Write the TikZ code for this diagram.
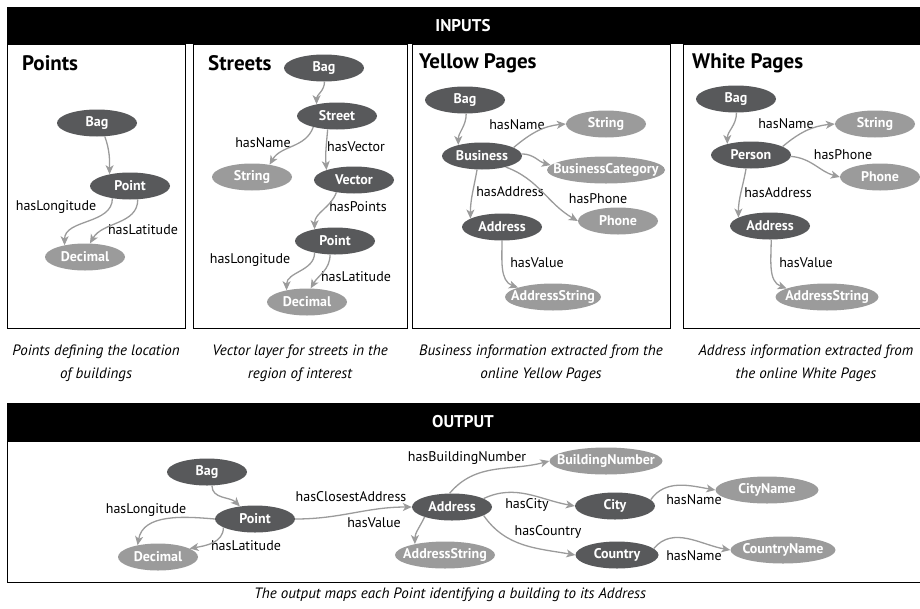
\documentclass[tikz,border=0pt]{standalone}
\usepackage{fontspec}
\setmainfont{PT Sans}
\usetikzlibrary{shapes.geometric,arrows.meta}

\definecolor{nodedark}{HTML}{58595B}
\definecolor{nodelight}{HTML}{9B9B9B}
\definecolor{linkgray}{HTML}{9B9B9B}

\tikzset{
  cls/.style={ellipse, fill=nodedark, text=white, inner sep=0pt,
    font=\fontsize{14}{15}\selectfont\bfseries,
    minimum height=27pt, minimum width=#1,
    execute at begin node=\hbox to 0pt\bgroup\hss,
    execute at end node=\hss\egroup},
  cls/.default=80pt,
  lit/.style={cls=#1, fill=nodelight},
  lit/.default=80pt,
  rel/.style={font=\fontsize{14}{16}\selectfont, inner sep=0pt},
  link/.style={draw=linkgray, line width=1.3pt, -{Stealth[length=9pt,width=8pt,inset=2.5pt]}},
  paneltitle/.style={font=\fontsize{21}{24}\selectfont\bfseries, inner sep=0pt, anchor=west},
  bartext/.style={font=\fontsize{17}{20}\selectfont\bfseries, text=white, inner sep=0pt},
  caption/.style={font=\fontsize{15}{23}\selectfont\itshape, align=center, inner sep=0pt},
  frame/.style={draw=black, line width=0.9pt},
}

\begin{document}
\begin{tikzpicture}[x=1pt,y=1pt]
\useasboundingbox (0,0) rectangle (920,-608);

% ---------- INPUTS ----------
\fill[black] (7,-7) rectangle (920,-44);
\node[bartext] (inputs) at (463,-25.5) {INPUTS};

\draw[frame] (7,-44) rectangle (185,-328);
\draw[frame] (193,-44) rectangle (407,-328);
\draw[frame] (412,-44) rectangle (670,-328);
\draw[frame] (920,-44) -- (683,-44) -- (683,-328) -- (920,-328);

\node[paneltitle] (t1) at (22,-63) {Points};
\node[paneltitle] (t2) at (208,-63) {Streets};
\node[paneltitle] (t3) at (419,-63) {Yellow Pages};
\node[paneltitle] (t4) at (692,-63) {White Pages};

% Points
\node[cls] (p1bag) at (97,-123) {Bag};
\node[cls] (p1point) at (130,-186) {Point};
\node[lit] (p1dec) at (85,-257) {Decimal};
\node[rel] (p1lon) at (56,-207) {hasLongitude};
\node[rel] (p1lat) at (143,-230) {hasLatitude};
\draw[link] (p1bag.-60) to[out=-70,in=90] (p1point.150);
\draw[link] (p1point.215) to[out=-90,in=90] (p1dec.150);
\draw[link] (p1point.-60) to[out=-90,in=60] (p1dec.70);

% Streets
\node[cls] (s2bag) at (324,-68) {Bag};
\node[cls] (s2street) at (337,-116) {Street};
\node[lit] (s2string) at (252,-177) {String};
\node[cls] (s2vector) at (354,-180) {Vector};
\node[cls] (s2point) at (335,-241) {Point};
\node[lit] (s2dec) at (307,-302) {Decimal};
\node[rel] (s2name) at (263,-143) {hasName};
\node[rel] (s2vec) at (356,-147) {hasVector};
\node[rel] (s2pts) at (358,-207) {hasPoints};
\node[rel] (s2lon) at (250,-260) {hasLongitude};
\node[rel] (s2lat) at (356,-277) {hasLatitude};
\draw[link] (s2bag.-88) to[out=-90,in=90] (s2street.150);
\draw[link] (s2street.205) to[out=-110,in=60] (s2string.35);
\draw[link] (s2street.235) to[out=-95,in=95] (s2vector.160);
\draw[link] (s2vector.215) to[out=-110,in=90] (s2point.150);
\draw[link] (s2point.210) to[out=-90,in=90] (s2dec.150);
\draw[link] (s2point.-110) to[out=-90,in=60] (s2dec.75);

% Yellow Pages
\node[cls] (y3bag) at (465,-100) {Bag};
\node[cls] (y3bus) at (482,-156) {Business};
\node[lit] (y3str) at (606,-124) {String};
\node[lit=118pt] (y3cat) at (606,-170) {BusinessCategory};
\node[lit] (y3phone) at (618,-221) {Phone};
\node[cls] (y3addr) at (502,-227) {Address};
\node[lit=96pt] (y3astr) at (553,-297) {AddressString};
\node[rel] (y3name) at (517,-125) {hasName};
\node[rel] (y3addrl) at (510,-192) {hasAddress};
\node[rel] (y3phl) at (598,-199) {hasPhone};
\node[rel] (y3val) at (537,-263) {hasValue};
\draw[link] (y3bag.-85) to[out=-90,in=90] (y3bus.155);
\draw[link] (y3bus.15) to[out=40,in=185] (y3str.west);
\draw[link] (y3bus.3) to[out=0,in=165] (y3cat.175);
\draw[link] (y3bus.-25) to[out=-20,in=150] (y3phone.west);
\draw[link] (y3bus.-110) to[out=-100,in=90] (y3addr.165);
\draw[link] (y3addr.-90) to[out=-90,in=160] (y3astr.165);

% White Pages
\node[cls] (w4bag) at (736,-99) {Bag};
\node[cls] (w4person) at (751,-155) {Person};
\node[lit] (w4str) at (875,-124) {String};
\node[lit] (w4phone) at (880,-177) {Phone};
\node[cls] (w4addr) at (770,-226) {Address};
\node[lit=103pt] (w4astr) at (827,-297) {AddressString};
\node[rel] (w4name) at (786,-124) {hasName};
\node[rel] (w4ph) at (843,-155) {hasPhone};
\node[rel] (w4addrl) at (778,-193) {hasAddress};
\node[rel] (w4val) at (806,-263) {hasValue};
\draw[link] (w4bag.-88) to[out=-90,in=90] (w4person.155);
\draw[link] (w4person.15) to[out=40,in=185] (w4str.west);
\draw[link] (w4person.-2) to[out=-5,in=165] (w4phone.west);
\draw[link] (w4person.-110) to[out=-100,in=90] (w4addr.165);
\draw[link] (w4addr.-85) to[out=-90,in=160] (w4astr.168);

% Captions
\node[caption] (cap1) at (96,-363.5) {Points defining the location\\of buildings};
\node[caption] (cap2) at (300,-363.5) {Vector layer for streets in the\\region of interest};
\node[caption] (cap3) at (541,-363.5) {Business information extracted from the\\online Yellow Pages};
\node[caption] (cap4) at (806,-363.5) {Address information extracted from\\the online White Pages};

% ---------- OUTPUT ----------
\fill[black] (7,-403) rectangle (920,-441);
\node[bartext] (output) at (463,-422) {OUTPUT};
\draw[frame] (920,-441) -- (7,-441) -- (7,-582) -- (920,-582);

\node[cls] (obag) at (207,-472) {Bag};
\node[cls] (opoint) at (255,-519) {Point};
\node[lit] (odec) at (158,-557) {Decimal};
\node[cls] (oaddr) at (452,-507) {Address};
\node[lit=100pt] (oastr) at (445,-555) {AddressString};
\node[lit=113pt] (obnum) at (606,-461) {BuildingNumber};
\node[cls] (ocity) at (615,-506) {City};
\node[lit=103pt] (ocname) at (767,-490) {CityName};
\node[cls=83pt] (ocountry) at (617,-555) {Country};
\node[lit=105pt] (oconame) at (783,-550) {CountryName};

\node[rel] (olon) at (146,-510) {hasLongitude};
\node[rel] (olat) at (246,-546) {hasLatitude};
\node[rel] (oclose) at (351,-497) {hasClosestAddress};
\node[rel] (oval) at (374,-523) {hasValue};
\node[rel] (obn) at (467,-458) {hasBuildingNumber};
\node[rel] (ocityl) at (527,-505) {hasCity};
\node[rel] (ocn) at (694,-500) {hasName};
\node[rel] (ocountryl) at (548,-532) {hasCountry};
\node[rel] (ocon) at (694,-556) {hasName};

\draw[link] (obag.-70) to[out=-90,in=135] (opoint.140);
\draw[link] (opoint.west) to[out=175,in=80] (odec.150);
\draw[link] (opoint.195) to[out=-90,in=10] (odec.15);
\draw[link] (opoint.east) to[out=0,in=180] (oaddr.west);
\draw[link] (oaddr.200) to[out=-115,in=90] (oastr.160);
\draw[link] (oaddr.100) to[out=50,in=195] (obnum.west);
\draw[link] (oaddr.15) to[out=25,in=170] (ocity.west);
\draw[link] (oaddr.-15) to[out=-55,in=170] (ocountry.west);
\draw[link] (ocity.10) to[out=55,in=170] (ocname.west);
\draw[link] (ocountry.10) to[out=50,in=170] (oconame.west);

\node[caption] (cap5) at (450,-595) {The output maps each Point identifying a building to its Address};
\end{tikzpicture}
\end{document}
